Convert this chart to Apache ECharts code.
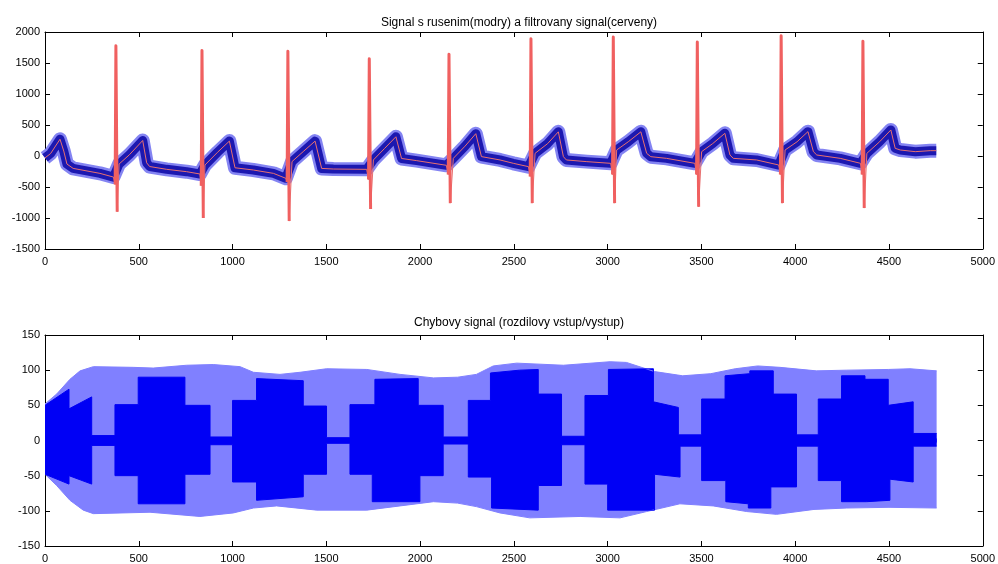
<!DOCTYPE html>
<html><head><meta charset="utf-8">
<script src="https://cdn.jsdelivr.net/npm/echarts@6/dist/echarts.min.js"></script>
<style>html,body{margin:0;padding:0;background:#fff}#c{width:998px;height:564px}</style>
</head><body><div id="c"></div>
<script>
const titleTop = 'Signal s rusenim(modry) a filtrovany signal(cerveny)';
const titleBottom = 'Chybovy signal (rozdilovy vstup/vystup)';

// Top plot: baseline of the noisy ECG (blue band centre), [sample, value]
const signalBase = [[0,-30],[30,40],[80,270],[100,80],[117,-130],[150,-200],[293,-280],[365,-340],
 [395,-130],[450,20],[521,250],[542,-110],[558,-170],[649,-215],[755,-253],[826,-290],
 [853,-145],[920,60],[983,240],[1013,-190],[1111,-226],[1218,-280],[1284,-360],
 [1317,-90],[1380,80],[1440,240],[1475,-200],[1537,-210],[1715,-215],
 [1751,-64],[1810,120],[1871,310],[1901,-40],[1982,-75],[2140,-150],
 [2177,-38],[2240,160],[2297,360],[2327,-10],[2426,-64],[2497,-118],[2578,-172],
 [2613,43],[2680,200],[2737,390],[2764,-11],[2780,-64],[2889,-91],[3016,-118],
 [3048,97],[3110,230],[3177,390],[3208,43],[3230,-11],[3314,-38],[3465,-118],
 [3501,70],[3560,200],[3625,366],[3652,16],[3670,-38],[3794,-64],[3912,-145],
 [3946,97],[4010,230],[4068,393],[4097,70],[4115,16],[4240,-38],[4348,-118],
 [4382,43],[4450,230],[4510,420],[4533,124],[4560,97],[4640,70],[4720,86],[4752,86]];

// QRS complexes of the filtered signal (Q, R, S points)
const qrsSpikes = [[374,-460],[378,1780],[385,-900],
 [833,-480],[837,1700],[844,-1000],
 [1291,-420],[1295,1690],[1302,-1050],
 [1725,-380],[1729,1570],[1736,-855],
 [2150,-300],[2154,1640],[2161,-760],
 [2587,-330],[2591,1890],[2598,-760],
 [3026,-300],[3030,1920],[3037,-760],
 [3474,-300],[3478,1840],[3485,-820],
 [3921,-300],[3925,1940],[3932,-760],
 [4357,-300],[4361,1850],[4368,-840]];

// Bottom plot: envelopes of the error signal
const errOuterUpper = [[0,52],[62,66],[133,87],[187,99],[258,105],[470,104],[577,103],[755,107],[897,108],[1040,105],[1111,97],[1253,94],[1360,97],[1501,102],[1716,101],[1893,94],[2071,89],[2200,90],[2300,94],[2390,106],[2515,110],[2764,107],[3013,112],[3100,111],[3250,98],[3400,92],[3550,95],[3680,102],[3800,106],[3919,104],[4113,99],[4275,100],[4496,101],[4612,102],[4754,99]];
const errOuterLower = [[0,-48],[62,-64],[133,-85],[204,-99],[258,-104],[560,-102],[826,-108],[1004,-103],[1111,-96],[1235,-93],[1449,-99],[1716,-99],[1893,-93],[2071,-87],[2200,-89],[2300,-94],[2426,-103],[2585,-110],[2853,-108],[3066,-110],[3208,-101],[3385,-90],[3563,-93],[3741,-101],[3900,-105],[4100,-98],[4275,-96],[4500,-95],[4754,-96]];
const errInnerUpper = [[0,50],[128,73],[128,45],[249,62],[249,7],[373,7],[373,51],[497,51],[497,90],[746,90],[746,50],[880,50],[880,5],[1000,5],[1000,57],[1128,57],[1128,88],[1377,85],[1377,49],[1501,49],[1501,4],[1626,4],[1626,51],[1759,51],[1759,87],[1990,88],[1990,50],[2123,50],[2123,5],[2257,5],[2257,57],[2375,57],[2375,96],[2530,100],[2630,101],[2630,66],[2754,66],[2754,6],[2879,6],[2879,64],[3004,64],[3004,101],[3244,102],[3244,55],[3377,47],[3377,8],[3501,8],[3501,59],[3626,59],[3626,92],[3758,95],[3758,99],[3883,99],[3883,66],[4007,66],[4007,8],[4123,8],[4123,59],[4247,59],[4247,92],[4372,92],[4372,87],[4496,87],[4496,50],[4629,55],[4629,10],[4754,10]];
const errInnerLower = [[0,-48],[128,-62],[128,-50],[249,-62],[249,-7],[373,-7],[373,-50],[497,-50],[497,-90],[746,-90],[746,-48],[880,-48],[880,-6],[1000,-6],[1000,-59],[1128,-59],[1128,-85],[1377,-80],[1377,-48],[1501,-48],[1501,-4],[1626,-4],[1626,-48],[1745,-48],[1745,-87],[1999,-87],[1999,-50],[2123,-50],[2123,-5],[2257,-5],[2257,-52],[2381,-52],[2381,-96],[2630,-99],[2630,-64],[2754,-64],[2754,-6],[2879,-6],[2879,-62],[3000,-62],[3000,-99],[3250,-99],[3250,-48],[3386,-52],[3386,-8],[3501,-8],[3501,-57],[3630,-57],[3630,-87],[3750,-90],[3750,-96],[3870,-96],[3870,-66],[4007,-66],[4007,-8],[4123,-8],[4123,-57],[4247,-57],[4247,-87],[4380,-87],[4380,-85],[4505,-85],[4505,-55],[4629,-59],[4629,-8],[4754,-8]];

const filtered = signalBase.concat(qrsSpikes).sort((a, b) => a[0] - b[0]);
// spikes drawn again, broken between complexes
const spikeSegs = [];
qrsSpikes.forEach((p, i) => { spikeSegs.push(p); if (i % 3 === 2) spikeSegs.push(null); });

const FONT = 'Liberation Sans, Arial, sans-serif';
const lbl = { color: '#000', fontSize: 11, fontFamily: FONT, formatter: v => String(v) };
function xAx(g, pos) {
  return { gridIndex: g, type: 'value', min: 0, max: 5000, interval: 500, position: pos,
    axisLine: { show: true, onZero: false, lineStyle: { color: '#000', width: 1 } },
    axisTick: { show: true, inside: true, length: 5, lineStyle: { color: '#000' } },
    axisLabel: Object.assign({ show: pos === 'bottom', margin: 7 }, lbl),
    splitLine: { show: false } };
}
function yAx(g, pos, min, max, step) {
  return { gridIndex: g, type: 'value', min: min, max: max, interval: step, position: pos,
    axisLine: { show: true, onZero: false, lineStyle: { color: '#000', width: 1 } },
    axisTick: { show: true, inside: true, length: 5, lineStyle: { color: '#000' } },
    axisLabel: Object.assign({ show: pos === 'left', margin: 5 }, lbl),
    splitLine: { show: false } };
}
function ln(xi, yi, data, color, width, origin) {
  const s = { type: 'line', xAxisIndex: xi, yAxisIndex: yi, data: data, showSymbol: false,
    symbol: 'none', connectNulls: false, clip: true, lineStyle: { color: color, width: width, join: 'round', cap: 'butt' },
    itemStyle: { color: color }, silent: true, z: 2 };
  if (origin !== undefined) s.areaStyle = { color: color, opacity: 1, origin: origin };
  return s;
}

const chart = echarts.init(document.getElementById('c'), null, { renderer: 'canvas' });
chart.setOption({
  animation: false,
  backgroundColor: '#fff',
  title: [
    { text: titleTop, left: 514, top: 12, textAlign: 'center', textStyle: { fontSize: 12, fontWeight: 'normal', color: '#000', fontFamily: FONT } },
    { text: titleBottom, left: 514, top: 312, textAlign: 'center', textStyle: { fontSize: 12, fontWeight: 'normal', color: '#000', fontFamily: FONT } }
  ],
  grid: [
    { left: 45, right: 15, top: 32, height: 217 },
    { left: 45, right: 15, top: 335, height: 215 }
  ],
  xAxis: [xAx(0, 'bottom'), xAx(0, 'top'), xAx(1, 'bottom'), xAx(1, 'top')],
  yAxis: [yAx(0, 'left', -1500, 2000, 500), yAx(0, 'right', -1500, 2000, 500),
          yAx(1, 'left', -150, 150, 50), yAx(1, 'right', -150, 150, 50)],
  series: [
    ln(0, 0, signalBase, '#8484f2', 14),
    ln(0, 0, signalBase, '#1c18b0', 9),
    ln(0, 0, filtered, '#e87070', 1),
    ln(0, 0, spikeSegs, '#f06060', 3),
    ln(2, 2, errOuterUpper, '#8080ff', 1, -3),
    ln(2, 2, errOuterLower, '#8080ff', 1, 3),
    ln(2, 2, errInnerUpper, '#0000f5', 1, -3),
    ln(2, 2, errInnerLower, '#0000f5', 1, 3)
  ]
});
</script></body></html>
